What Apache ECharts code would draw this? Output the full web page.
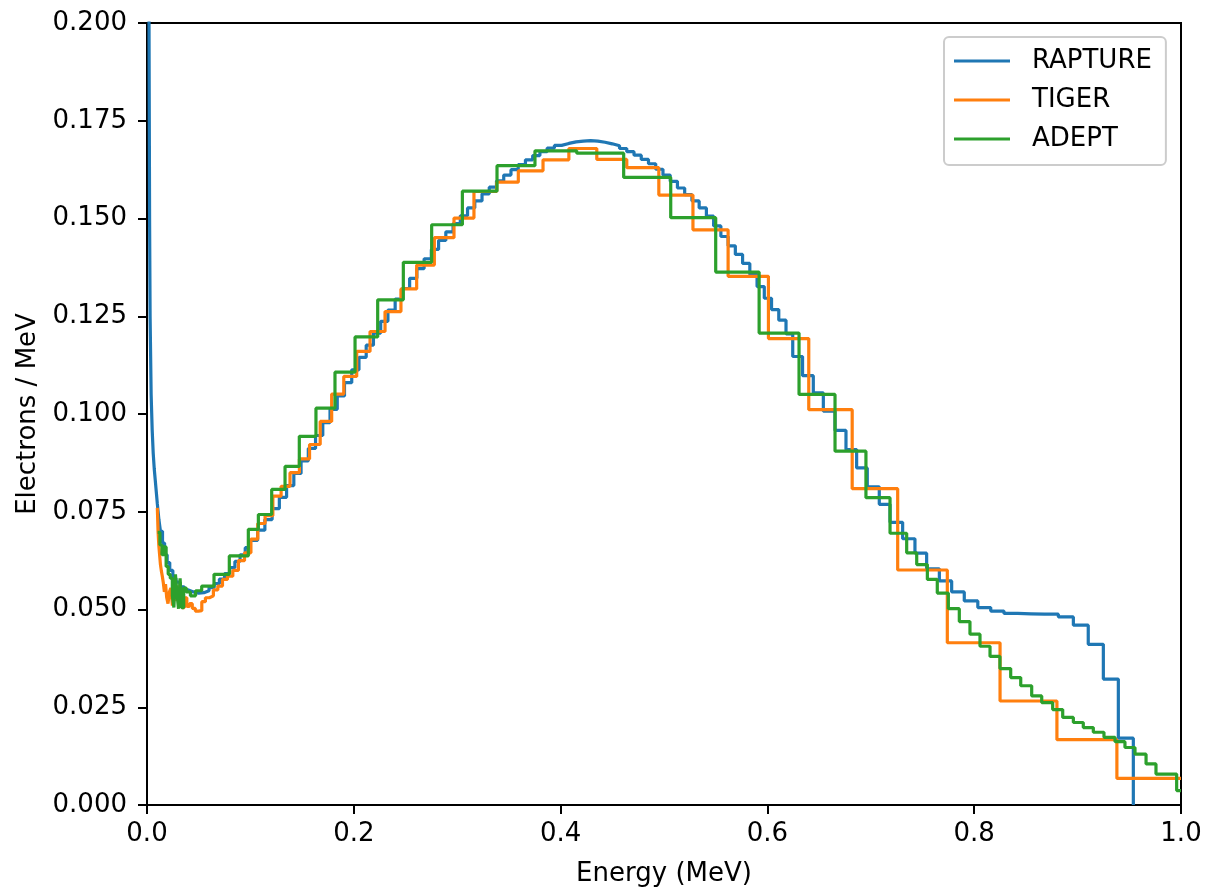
<!DOCTYPE html>
<html>
<head>
<meta charset="utf-8">
<title>Electron spectrum</title>
<script src="https://cdn.jsdelivr.net/npm/echarts@6/dist/echarts.min.js"></script>
<style>
  html, body { margin: 0; padding: 0; background: #ffffff; }
  #chart { width: 1208px; height: 892px; }
</style>
</head>
<body>
<div id="chart"></div>
<script>
// bin left edges (MeV) and heights (electrons / MeV)
var seriesNames = ['RAPTURE', 'TIGER', 'ADEPT'];

var raptureEnergy = [
  0.0010, 0.0015, 0.0020, 0.0025, 0.0030, 0.0040, 0.0050, 0.0060, 0.0070, 0.0080,
  0.0090, 0.0100, 0.0115, 0.0130, 0.0150, 0.0170, 0.0195, 0.0220, 0.0250, 0.0280,
  0.0320, 0.0360, 0.0400, 0.0450, 0.0500, 0.0550, 0.0600, 0.0650, 0.0700, 0.0750,
  0.0800, 0.0850, 0.0900, 0.0950, 0.1000, 0.1070, 0.1140, 0.1210, 0.1280, 0.1350,
  0.1420, 0.1490, 0.1560, 0.1630, 0.1700, 0.1770, 0.1840, 0.1910, 0.1980, 0.2050,
  0.2120, 0.2190, 0.2260, 0.2330, 0.2400, 0.2470, 0.2540, 0.2610, 0.2680, 0.2750,
  0.2820, 0.2890, 0.2960, 0.3030, 0.3100, 0.3170, 0.3240, 0.3310, 0.3380, 0.3450,
  0.3520, 0.3590, 0.3660, 0.3730, 0.3800, 0.3870, 0.3940, 0.4010, 0.4080, 0.4150,
  0.4220, 0.4290, 0.4360, 0.4430, 0.4500, 0.4570, 0.4640, 0.4710, 0.4780, 0.4850,
  0.4920, 0.4990, 0.5060, 0.5130, 0.5200, 0.5270, 0.5340, 0.5410, 0.5480, 0.5550,
  0.5620, 0.5690, 0.5760, 0.5830, 0.5900, 0.5970, 0.6040, 0.6110, 0.6180, 0.6245,
  0.6340, 0.6444, 0.6541, 0.6654, 0.6760, 0.6863, 0.6966, 0.7082, 0.7186, 0.7308,
  0.7427, 0.7540, 0.7663, 0.7782, 0.7904, 0.8035, 0.8160, 0.8288, 0.8420, 0.8550,
  0.8680, 0.8814, 0.8959, 0.9103, 0.9249, 0.9394, 0.9539
];
// last entry is the drop to zero at the final edge
var raptureValues = [
  0.400, 0.260, 0.195, 0.150, 0.125, 0.105, 0.096, 0.090, 0.086, 0.083,
  0.080, 0.077, 0.073, 0.070, 0.067, 0.064, 0.062, 0.060, 0.058, 0.057,
  0.0558, 0.0550, 0.0545, 0.0542, 0.0543, 0.0548, 0.0556, 0.0566, 0.0578, 0.0592,
  0.0607, 0.0623, 0.0640, 0.0658, 0.0677, 0.0703, 0.0730, 0.0758, 0.0787, 0.0817,
  0.0848, 0.0880, 0.0912, 0.0945, 0.0978, 0.1012, 0.1046, 0.1080, 0.1113, 0.1145,
  0.1176, 0.1207, 0.1237, 0.1266, 0.1294, 0.1321, 0.1347, 0.1372, 0.1397, 0.1421,
  0.1444, 0.1466, 0.1487, 0.1507, 0.1527, 0.1545, 0.1563, 0.1580, 0.1596, 0.1611,
  0.1625, 0.1638, 0.1650, 0.1661, 0.1671, 0.1680, 0.1687, 0.1692, 0.1696, 0.1698,
  0.1699, 0.1698, 0.1695, 0.1691, 0.1686, 0.1679, 0.1671, 0.1662, 0.1651, 0.1640,
  0.1626, 0.1611, 0.1595, 0.1578, 0.1561, 0.1545, 0.1527, 0.1506, 0.1481, 0.1454,
  0.1430, 0.1408, 0.1385, 0.1357, 0.1326, 0.1296, 0.1267, 0.1240, 0.1205, 0.1147,
  0.1098, 0.1054, 0.1007, 0.0958, 0.0909, 0.0862, 0.0814, 0.0769, 0.0723, 0.0681,
  0.0644, 0.0604, 0.0573, 0.0545, 0.0522, 0.0505, 0.0496, 0.0490, 0.0489, 0.0488,
  0.0488, 0.0481, 0.0460, 0.0411, 0.0322, 0.0171, 0.0000
];

var tigerEdges = [
  0.0100, 0.0107, 0.0114, 0.0122, 0.0130, 0.0138, 0.0148, 0.0157, 0.0168, 0.0179,
  0.0191, 0.0203, 0.0217, 0.0231, 0.0246, 0.0263, 0.0280, 0.0298, 0.0318, 0.0339,
  0.0361, 0.0385, 0.0411, 0.0438, 0.0467, 0.0498, 0.0530, 0.0565, 0.0603, 0.0642,
  0.0685, 0.0730, 0.0778, 0.0830, 0.0884, 0.0943, 0.1005, 0.1071, 0.1142, 0.1217,
  0.1297, 0.1383, 0.1474, 0.1572, 0.1675, 0.1786, 0.1903, 0.2028, 0.2157, 0.2302,
  0.2456, 0.2608, 0.2779, 0.2969, 0.3162, 0.3382, 0.3591, 0.3830, 0.4080, 0.4350,
  0.4640, 0.4950, 0.5280, 0.5620, 0.6010, 0.6400, 0.6820, 0.7260, 0.7740, 0.8250,
  0.8800, 0.9380, 1.0000
];
var tigerValues = [
  0.0760, 0.0700, 0.0665, 0.0640, 0.0615, 0.0600, 0.0585, 0.0570, 0.0545, 0.0565,
  0.0530, 0.0515, 0.0545, 0.0555, 0.0510, 0.0540, 0.0522, 0.0558, 0.0518, 0.0505,
  0.0530, 0.0508, 0.0515, 0.0503, 0.0496, 0.0497, 0.0520, 0.0530, 0.0535, 0.0550,
  0.0560, 0.0577, 0.0585, 0.0600, 0.0625, 0.0645, 0.0680, 0.0720, 0.0740, 0.0790,
  0.0815, 0.0850, 0.0885, 0.0922, 0.0981, 0.1051, 0.1096, 0.1160, 0.1211, 0.1262,
  0.1320, 0.1381, 0.1451, 0.1501, 0.1569, 0.1593, 0.1622, 0.1650, 0.1679, 0.1651,
  0.1630, 0.1560, 0.1471, 0.1352, 0.1193, 0.1011, 0.0809, 0.0601, 0.0415, 0.0266,
  0.0167, 0.0068
];

var adeptEdges = [
  0.0103, 0.0125, 0.0145, 0.0165, 0.0185, 0.0205, 0.0225, 0.0245, 0.0260, 0.0275,
  0.0290, 0.0305, 0.0320, 0.0335, 0.0355, 0.0380, 0.0420, 0.0470, 0.0529, 0.0648,
  0.0796, 0.0980, 0.1077, 0.1206, 0.1335, 0.1473, 0.1634, 0.1818, 0.2012, 0.2231,
  0.2479, 0.2753, 0.3050, 0.3385, 0.3752, 0.4156, 0.4610, 0.5065, 0.5500, 0.5920,
  0.6306, 0.6654, 0.6953, 0.7186, 0.7347, 0.7444, 0.7547, 0.7643, 0.7750, 0.7856,
  0.7959, 0.8056, 0.8153, 0.8249, 0.8353, 0.8450, 0.8556, 0.8653, 0.8759, 0.8856,
  0.8959, 0.9055, 0.9152, 0.9255, 0.9362, 0.9458, 0.9555, 0.9662, 0.9758, 0.9958,
  1.0000
];
var adeptValues = [
  0.0697, 0.0665, 0.0640, 0.0660, 0.0610, 0.0590, 0.0580, 0.0535, 0.0505, 0.0590,
  0.0540, 0.0502, 0.0580, 0.0505, 0.0555, 0.0545, 0.0535, 0.0548, 0.0560, 0.0590,
  0.0637, 0.0705, 0.0743, 0.0807, 0.0866, 0.0943, 0.1015, 0.1107, 0.1197, 0.1292,
  0.1388, 0.1484, 0.1570, 0.1635, 0.1673, 0.1667, 0.1605, 0.1502, 0.1363, 0.1207,
  0.1050, 0.0905, 0.0786, 0.0695, 0.0645, 0.0615, 0.0577, 0.0542, 0.0502, 0.0469,
  0.0437, 0.0406, 0.0380, 0.0349, 0.0326, 0.0305, 0.0279, 0.0262, 0.0244, 0.0224,
  0.0211, 0.0198, 0.0186, 0.0173, 0.0162, 0.0147, 0.0130, 0.0105, 0.0079, 0.0037
];

// pair each edge with its bin height; an edge past the last height repeats it
function stepPoints(edges, values) {
  return edges.map(function (e, i) {
    var v = i < values.length ? values[i] : values[values.length - 1];
    return [e, v];
  });
}

var fontFamily = 'DejaVu Sans';
var colors = ['#1f77b4', '#ff7f0e', '#2ca02c'];

var chart = echarts.init(document.getElementById('chart'), null, { renderer: 'canvas' });

function makeSeries(name, color, data) {
  return {
    name: name,
    type: 'line',
    step: 'end',
    data: data,
    symbol: 'none',
    clip: true,
    color: color,
    lineStyle: { color: color, width: 3.2 },
    emphasis: { disabled: true }
  };
}

var option = {
  animation: false,
  backgroundColor: '#ffffff',
  textStyle: { fontFamily: fontFamily },
  grid: {
    left: 147,
    right: 27,
    top: 23,
    bottom: 86,
    show: true,
    borderColor: '#000000',
    borderWidth: 2,
    backgroundColor: 'transparent'
  },
  legend: {
    data: seriesNames,
    orient: 'vertical',
    left: 944,
    top: 37,
    icon: 'rect',
    itemWidth: 56,
    itemHeight: 3,
    itemGap: 13,
    padding: [11, 14, 13, 10],
    borderColor: '#cccccc',
    borderWidth: 2,
    borderRadius: 5,
    backgroundColor: 'rgba(255,255,255,0.8)',
    textStyle: {
      fontFamily: fontFamily,
      fontSize: 26,
      lineHeight: 26,
      color: '#000000',
      padding: [0, 0, 0, 17]
    }
  },
  xAxis: {
    type: 'value',
    min: 0,
    max: 1,
    interval: 0.2,
    name: 'Energy (MeV)',
    nameLocation: 'middle',
    nameGap: 56,
    nameTextStyle: { fontFamily: fontFamily, fontSize: 26, color: '#000000' },
    axisLine: { show: true, onZero: false, lineStyle: { color: '#000000', width: 2 } },
    axisTick: { show: true, inside: false, length: 9, lineStyle: { color: '#000000', width: 2 } },
    axisLabel: {
      fontFamily: fontFamily,
      fontSize: 26,
      color: '#000000',
      margin: 16,
      formatter: function (v) { return v.toFixed(1); }
    },
    splitLine: { show: false }
  },
  yAxis: {
    type: 'value',
    min: 0,
    max: 0.2,
    interval: 0.025,
    name: 'Electrons / MeV',
    nameLocation: 'middle',
    nameGap: 105,
    nameTextStyle: { fontFamily: fontFamily, fontSize: 26, color: '#000000' },
    axisLine: { show: true, onZero: false, lineStyle: { color: '#000000', width: 2 } },
    axisTick: { show: true, inside: false, length: 9, lineStyle: { color: '#000000', width: 2 } },
    axisLabel: {
      fontFamily: fontFamily,
      fontSize: 26,
      color: '#000000',
      margin: 20,
      formatter: function (v) { return v.toFixed(3); }
    },
    splitLine: { show: false }
  },
  series: [
    makeSeries(seriesNames[0], colors[0], stepPoints(raptureEnergy, raptureValues)),
    makeSeries(seriesNames[1], colors[1], stepPoints(tigerEdges, tigerValues)),
    makeSeries(seriesNames[2], colors[2], stepPoints(adeptEdges, adeptValues))
  ]
};

chart.setOption(option);
</script>
</body>
</html>
